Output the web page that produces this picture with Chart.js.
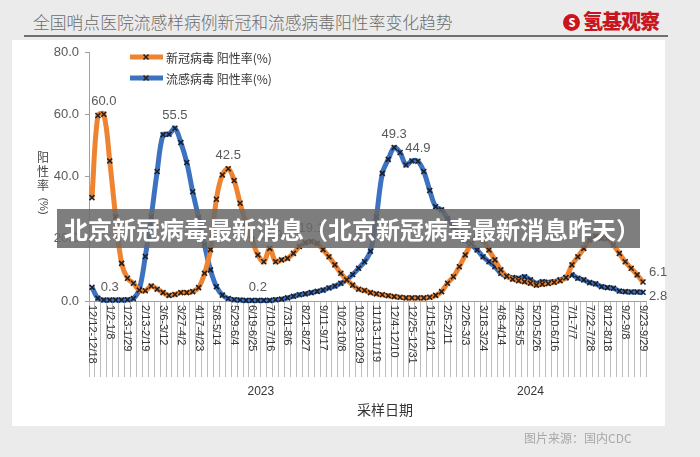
<!DOCTYPE html>
<html>
<head>
<meta charset="utf-8">
<script src="https://cdn.jsdelivr.net/npm/chart.js@4"></script>
<style>
  body { margin:0; width:700px; height:457px; background:#ebebeb; position:relative; overflow:hidden;
         font-family:"Noto Sans CJK SC","Noto Sans",sans-serif; }
  #panel { position:absolute; left:12px; top:40px; width:653px; height:386px; background:#fff; }
  #title { position:absolute; left:33px; top:10px; font-size:16.8px; color:#6b6b6b; font-weight:300; }
  #rule { position:absolute; left:24px; top:35px; width:644px; height:2px; background:#6f6f6f; }
  #logo { position:absolute; left:563px; top:6px; font-size:20px; font-weight:900; color:#c8161e; letter-spacing:-1px; }
  #logo span { display:inline-block; width:17px; height:17px; border-radius:50%; background:#c8161e; color:#fff;
               font-size:11px; line-height:17px; text-align:center; vertical-align:2px; margin-right:3px; }
  #pichart { position:absolute; left:0; top:0; }
  #banner { position:absolute; left:57px; top:209px; width:583px; height:39px; background:rgba(105,105,105,0.86);
            color:#fff; font-size:24px; font-weight:bold; line-height:39px; padding-left:7px; box-sizing:border-box; white-space:nowrap; }
  #source { position:absolute; left:524px; top:429px; font-size:12px; color:#a8a8a8; }
</style>
</head>
<body>
<div id="panel"></div>
<div id="title">全国哨点医院流感样病例新冠和流感病毒阳性率变化趋势</div>
<div id="rule"></div>
<div id="logo"><span>S</span>氢基观察</div>
<canvas id="pichart" width="700" height="457"></canvas>
<div id="banner">北京新冠病毒最新消息（北京新冠病毒最新消息昨天）</div>
<div id="source">图片来源：国内CDC</div>
<script>
// one label every 3 weeks, 94 weekly points in all
let weekLabels = ["12/12-12/18","1/2-1/8","1/23-1/29","2/13-2/19","3/6-3/12","3/27-4/2","4/17-4/23","5/8-5/14",
  "5/29-6/4","6/19-6/25","7/10-7/16","7/31-8/6","8/21-8/27","9/11-9/17","10/2-10/8","10/23-10/29",
  "11/13-11/19","12/4-12/10","12/25-12/31","1/15-1/21","2/5-2/11","2/26-3/3","3/18-3/24","4/8-4/14",
  "4/29-5/5","5/20-5/26","6/10-6/16","7/1-7/7","7/22-7/28","8/12-8/18","9/2-9/8","9/23-9/29"];
let yearNames = ["2023", "2024"];

let nameCovid = "新冠病毒 阳性率(%)";
let colorCovid = "#ee8431";
let covidRate = [33.2,59.6,60.0,45.0,27.0,12.1,7.3,5.7,3.5,3.3,
  4.8,3.8,2.7,1.8,2.1,2.7,2.7,3.0,4.3,8.9,
  16.5,32.7,40.5,42.5,38.7,31.4,25.0,19.8,14.8,12.6,
  16.9,12.6,13.2,13.7,15.3,17.5,18.7,19.1,18.5,16.5,
  14.2,11.6,8.9,6.8,5.1,3.8,3.4,2.7,2.3,2.0,
  1.7,1.4,1.2,1.0,1.0,1.0,1.0,1.2,1.8,3.0,
  5.7,7.8,11.0,14.8,18.5,20.9,19.6,16.4,13.2,10.0,
  8.0,7.0,6.5,6.2,5.7,5.1,5.4,5.6,6.0,6.5,
  7.5,11.6,14.2,16.9,19.6,20.9,20.1,20.1,18.0,15.3,
  12.6,10.5,8.4,6.1];
let covidNoted = [2, 23, 30, 37, 93];

let nameFlu = "流感病毒 阳性率(%)";
let colorFlu = "#3d72c0";
let fluRate = [4.4,0.9,0.3,0.3,0.3,0.3,0.4,0.8,3.8,14.3,
  27.0,41.6,53.4,53.6,55.5,50.9,44.5,35.1,26.7,18.0,
  10.0,4.6,1.9,0.8,0.4,0.3,0.2,0.2,0.2,0.2,
  0.2,0.4,0.6,1.0,1.5,2.0,2.3,2.7,3.1,3.5,
  4.2,4.8,5.7,6.8,8.5,10.5,12.6,16.0,27.0,41.0,
  45.5,49.3,47.7,43.7,45.0,44.9,41.6,35.5,30.3,29.3,
  26.5,23.9,21.5,19.6,18.0,16.4,14.2,12.6,11.0,8.9,
  7.8,7.5,7.3,7.8,6.8,5.7,6.2,6.0,6.2,6.8,
  7.5,8.4,7.3,6.8,5.9,5.5,4.6,4.3,4.1,3.2,
  3.0,2.9,2.9,2.8];
let fluNoted = [3, 14, 28, 51, 55, 93];

let yTicks = [0, 20, 40, 60, 80];

let cats = covidRate.map((v, i) => i % 3 === 0 ? weekLabels[i / 3] : "");

let extras = {
  id: "extras",
  afterDraw(chart) {
    const c = chart.ctx, xs = chart.scales.x, ys = chart.scales.y;
    c.save();
    // x labels, read top to bottom
    c.fillStyle = "#333";
    c.font = "11px 'Liberation Sans', Arial, sans-serif";
    c.textAlign = "left";
    c.textBaseline = "middle";
    cats.forEach((t, i) => {
      if (!t) return;
      c.save();
      c.translate(xs.getPixelForValue(i), ys.bottom + 4);
      c.rotate(Math.PI / 2);
      c.fillText(t, 0, 0);
      c.restore();
    });
    // years and axis title
    c.textAlign = "center";
    c.font = "12px 'Liberation Sans', Arial, sans-serif";
    c.fillText(yearNames[0], xs.getPixelForValue(28.5), 392);
    c.fillText(yearNames[1], xs.getPixelForValue(74), 392);
    c.font = "14px 'Noto Sans CJK SC'";
    c.fillText("采样日期", 385, 410);
    // y title, stacked
    c.fillStyle = "#444";
    c.font = "12px 'Noto Sans CJK SC'";
    ["阳", "性", "率"].forEach((ch, k) => c.fillText(ch, 43, 157 + k * 14));
    c.save();
    c.translate(43, 206);
    c.rotate(Math.PI / 2);
    c.font = "11px 'Liberation Sans', Arial";
    c.fillText("(%)", 0, 0);
    c.restore();
    // point value labels
    c.fillStyle = "#595959";
    c.font = "13px 'Liberation Sans', Arial, sans-serif";
    [[0, covidNoted, covidRate], [1, fluNoted, fluRate]].forEach(([d, idx, vals]) => {
      const meta = chart.getDatasetMeta(d);
      idx.forEach(i => {
        const p = meta.data[i];
        const txt = vals[i].toFixed(1);
        if (i === vals.length - 1) {
          c.textAlign = "left";
          c.fillText(txt, p.x + 6, p.y + (d === 0 ? -10 : 4));
        } else {
          c.textAlign = "center";
          c.fillText(txt, p.x, p.y - 13);
        }
      });
    });
    // legend
    c.textAlign = "left";
    c.font = "12px 'Noto Sans CJK SC'";
    [[nameCovid, colorCovid, 57], [nameFlu, colorFlu, 78]].forEach(([n, col, y]) => {
      c.strokeStyle = col;
      c.lineWidth = 5;
      c.beginPath(); c.moveTo(130, y); c.lineTo(163, y); c.stroke();
      c.strokeStyle = "#2a1f1a"; c.lineWidth = 1.5;
      c.beginPath(); c.moveTo(143.5, y - 2.5); c.lineTo(148.5, y + 2.5);
      c.moveTo(148.5, y - 2.5); c.lineTo(143.5, y + 2.5); c.stroke();
      c.fillStyle = "#333";
      c.fillText(n, 166, y + 1);
    });
    c.restore();
  }
};

new Chart(document.getElementById("pichart"), {
  type: "line",
  data: {
    labels: cats,
    datasets: [
      { label: nameCovid, data: covidRate, borderColor: colorCovid, borderWidth: 5, tension: 0.35,
        pointStyle: "crossRot", pointRadius: 3.5, pointBorderColor: "#2a1f1a", pointBorderWidth: 1.6 },
      { label: nameFlu, data: fluRate, borderColor: colorFlu, borderWidth: 5, tension: 0.35,
        pointStyle: "crossRot", pointRadius: 3.5, pointBorderColor: "#1a1f2a", pointBorderWidth: 1.6 }
    ]
  },
  options: {
    responsive: false,
    animation: false,
    clip: false,
    layout: { padding: { left: 0, right: 54, top: 52, bottom: 0 } },
    plugins: { legend: { display: false }, tooltip: { enabled: false } },
    scales: {
      x: {
        offset: true,
        afterFit: s => { s.height = 156; },
        ticks: { display: false, autoSkip: false },
        grid: { offset: true, drawOnChartArea: false, tickLength: 76, color: "#bdbdbd", lineWidth: 1 },
        border: { color: "#a0a0a0", width: 1 }
      },
      y: {
        min: 0, max: 80,
        afterFit: s => { s.width = 89; },
        afterBuildTicks: s => { s.ticks = yTicks.map(v => ({ value: v })); },
        ticks: { color: "#595959", font: { size: 13, family: "'Liberation Sans', Arial" }, padding: 6,
                 callback: v => Number(v).toFixed(1) },
        grid: { drawOnChartArea: false, tickLength: 4, color: "#a0a0a0" },
        border: { color: "#a0a0a0", width: 1 }
      }
    }
  },
  plugins: [extras]
});
</script>
</body>
</html>
